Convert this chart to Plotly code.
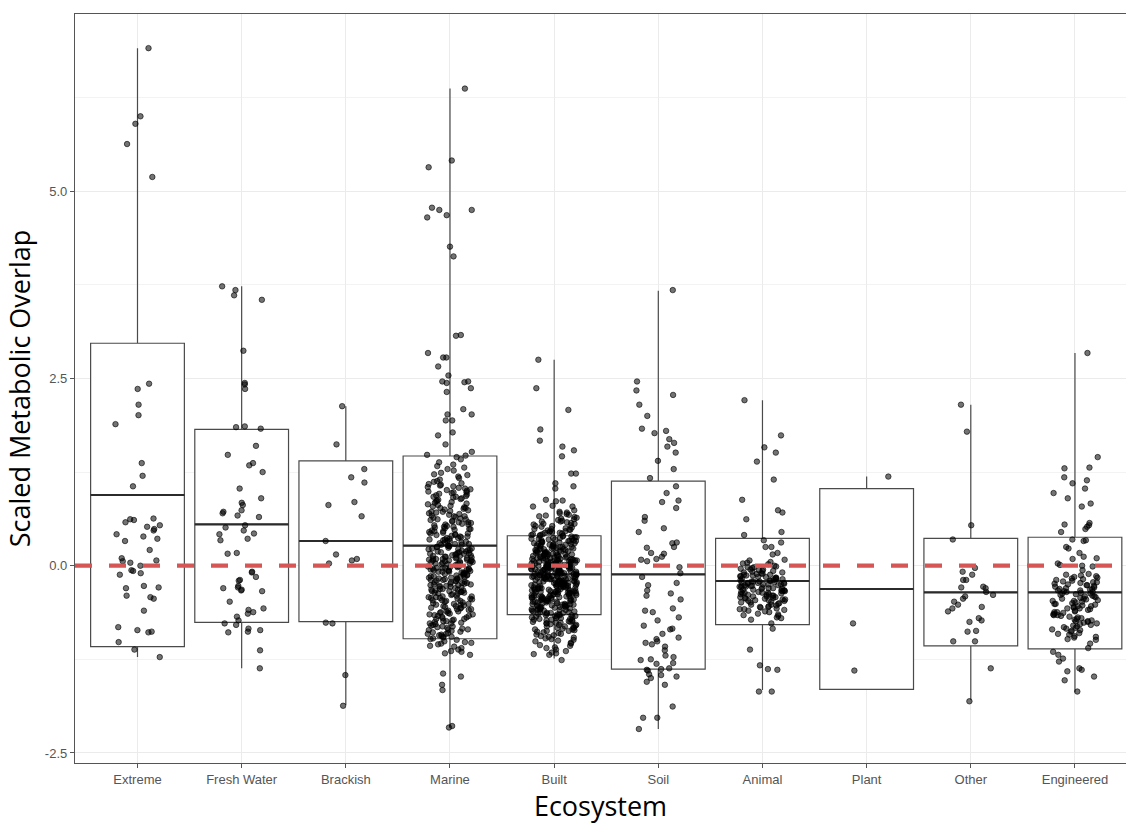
import math
import plotly.graph_objects as go

# ---------------- data ----------------
categories = ["Extreme", "Fresh Water", "Brackish", "Marine", "Built",
              "Soil", "Animal", "Plant", "Other", "Engineered"]

# box statistics
box_q1 = [-1.08, -0.756, -0.747, -0.975, -0.654, -1.38, -0.787, -1.65, -1.07, -1.11]
box_median = [0.944, 0.553, 0.33, 0.267, -0.115, -0.115, -0.204, -0.311, -0.355, -0.355]
box_q3 = [2.97, 1.82, 1.40, 1.465, 0.40, 1.13, 0.366, 1.03, 0.366, 0.38]
box_low = [-1.22, -1.37, -1.86, -2.16, -1.24, -2.18, -1.66, -1.65, -1.79, -1.69]
box_high = [6.91, 3.73, 2.13, 6.37, 2.75, 3.67, 2.21, 1.19, 2.15, 2.84]

# individual samples (read / estimated from the picture)
extreme = [6.91, 6.00, 5.90, 5.63, 5.19, 2.43, 2.36, 2.15, 2.01, 1.89, 1.37, 1.20, 1.06,
           0.63, 0.62, 0.61, 0.58, 0.54, 0.52, 0.49, 0.47, 0.42, 0.39, 0.36, 0.33, 0.21,
           0.10, 0.07, 0.06, 0.04, 0.00, -0.06, -0.07, -0.10, -0.12, -0.27, -0.29, -0.30,
           -0.40, -0.42, -0.44, -0.60, -0.82, -0.86, -0.88, -0.89, -1.02, -1.12, -1.22]

fresh_water = [3.73, 3.68, 3.61, 3.55, 2.87, 2.44, 2.42, 2.36, 1.86, 1.85, 1.83, 1.60, 1.48,
               1.37, 1.34, 1.25, 1.03, 0.90, 0.84, 0.81, 0.74, 0.72, 0.70, 0.67, 0.65, 0.54,
               0.51, 0.47, 0.43, 0.42, 0.36, 0.34, 0.17, 0.16, -0.08, -0.09, -0.15, -0.19,
               -0.20, -0.27, -0.29, -0.30, -0.32, -0.33, -0.34, -0.48, -0.57, -0.59, -0.62,
               -0.64, -0.68, -0.73, -0.77, -0.79, -0.84, -0.86, -0.88, -0.89, -1.13, -1.37]

brackish = [2.13, 1.62, 1.29, 1.18, 1.11, 0.85, 0.81, 0.66, 0.33, 0.15, 0.09, 0.07, 0.03,
            -0.76, -0.77, -1.46, -1.87]

marine = [6.37, 5.41, 5.32, 4.78, 4.75, 4.75, 4.68, 4.65, 4.26, 4.13, 3.08, 3.07, 2.84, 2.78,
          2.78, 2.66, 2.54, 2.46, 2.46, 2.45, 2.44, 2.37, 2.32, 2.09, 2.02, 2.02, 1.94, 1.94,
          1.78, 1.74, 1.62, 1.52,
          1.48, 1.47, 1.45, 1.42, 1.38, 1.35, 1.33, 1.31, 1.29, 1.27, 1.24, 1.22, 1.21,
          1.19, 1.17, 1.15, 1.13, 1.12, 1.10, 1.09, 1.08, 1.07, 1.06, 1.05, 1.04, 1.03, 1.02,
          1.01, 1.00, 0.99, 0.98, 0.98, 0.97, 0.96, 0.95, 0.94, 0.93, 0.92, 0.92, 0.91, 0.90,
          0.89, 0.88, 0.87, 0.86, 0.85, 0.84, 0.83, 0.82, 0.81, 0.80,
          0.79, 0.78, 0.77, 0.77, 0.76, 0.75, 0.74, 0.73, 0.72, 0.72, 0.71, 0.70,
          0.69, 0.68, 0.67, 0.66, 0.66, 0.65, 0.64, 0.63, 0.62, 0.62, 0.61, 0.60,
          0.59, 0.58, 0.58, 0.57, 0.56, 0.55, 0.55, 0.54, 0.53, 0.52, 0.52, 0.51, 0.50,
          0.49, 0.49, 0.48, 0.47, 0.46, 0.46, 0.45, 0.44, 0.43, 0.43, 0.42, 0.41, 0.41, 0.40,
          0.39, 0.39, 0.38, 0.37, 0.37, 0.36, 0.35, 0.35, 0.34, 0.33, 0.33, 0.32, 0.31, 0.31, 0.30,
          0.29, 0.29, 0.28, 0.28, 0.27, 0.26, 0.26, 0.25, 0.25, 0.24, 0.23, 0.23, 0.22, 0.22,
          0.21, 0.21, 0.20,
          0.19, 0.19, 0.18, 0.18, 0.17, 0.17, 0.16, 0.16, 0.15, 0.15, 0.14, 0.14, 0.13, 0.13,
          0.12, 0.12, 0.11, 0.11, 0.10, 0.10,
          0.09, 0.09, 0.09, 0.08, 0.08, 0.07, 0.07, 0.07, 0.06, 0.06, 0.05, 0.05, 0.05, 0.04,
          0.04, 0.03, 0.03, 0.03, 0.02, 0.02, 0.01, 0.00,
          -0.01, -0.01, -0.02, -0.02, -0.03, -0.03, -0.03, -0.04, -0.04, -0.05, -0.05, -0.05,
          -0.06, -0.06, -0.07, -0.07, -0.08, -0.08, -0.08, -0.09, -0.09, -0.10,
          -0.11, -0.11, -0.12, -0.12, -0.13, -0.13, -0.14, -0.14, -0.15, -0.15, -0.16, -0.16,
          -0.17, -0.17, -0.18, -0.18, -0.19, -0.19, -0.20, -0.20,
          -0.21, -0.21, -0.22, -0.22, -0.23, -0.23, -0.24, -0.24, -0.25, -0.25, -0.26, -0.26,
          -0.27, -0.27, -0.28, -0.28, -0.29, -0.30,
          -0.31, -0.31, -0.32, -0.32, -0.33, -0.33, -0.34, -0.34, -0.35, -0.35, -0.36, -0.36,
          -0.37, -0.37, -0.38, -0.39, -0.40,
          -0.41, -0.41, -0.42, -0.42, -0.43, -0.43, -0.44, -0.44, -0.45, -0.46, -0.46, -0.47,
          -0.47, -0.48, -0.49, -0.50,
          -0.51, -0.51, -0.52, -0.52, -0.53, -0.54, -0.54, -0.55, -0.56, -0.56, -0.57, -0.58,
          -0.58, -0.59, -0.60,
          -0.61, -0.61, -0.62, -0.63, -0.63, -0.64, -0.65, -0.65, -0.66, -0.67, -0.67, -0.68,
          -0.69, -0.70,
          -0.71, -0.71, -0.72, -0.73, -0.74, -0.74, -0.75, -0.76, -0.77, -0.77, -0.78, -0.79, -0.80,
          -0.81, -0.81, -0.82, -0.83, -0.84, -0.85, -0.85, -0.86, -0.87, -0.88, -0.89, -0.90,
          -0.91, -0.91, -0.92, -0.93, -0.94, -0.95, -0.95, -0.96, -0.97, -0.98, -0.99,
          -1.01, -1.02, -1.03, -1.04, -1.05, -1.07, -1.08, -1.10,
          -1.12, -1.14, -1.15, -1.17, -1.19,
          -1.44, -1.48, -1.59, -1.66, -2.14, -2.16]

built = [2.75, 2.37, 2.08, 1.82, 1.67, 1.59, 1.54, 1.46, 1.23, 1.23, 1.10, 1.06, 1.03, 0.88,
         0.87, 0.86, 0.80, 0.79, 0.79, 0.74, 0.72, 0.71,
         0.70, 0.69, 0.68, 0.67, 0.66, 0.65, 0.64, 0.63, 0.62, 0.61,
         0.60, 0.59, 0.59, 0.58, 0.57, 0.56, 0.56, 0.55, 0.54, 0.53, 0.53, 0.52, 0.51, 0.50,
         0.49, 0.49, 0.48, 0.48, 0.47, 0.46, 0.46, 0.45, 0.45, 0.44, 0.44, 0.43, 0.42, 0.42,
         0.41, 0.41, 0.40, 0.40,
         0.39, 0.39, 0.38, 0.38, 0.37, 0.37, 0.36, 0.36, 0.36, 0.35, 0.35, 0.34, 0.34, 0.33,
         0.33, 0.33, 0.32, 0.32, 0.31, 0.31, 0.30, 0.30,
         0.29, 0.29, 0.29, 0.28, 0.28, 0.28, 0.27, 0.27, 0.26, 0.26, 0.26, 0.25, 0.25, 0.25,
         0.24, 0.24, 0.23, 0.23, 0.23, 0.22, 0.22, 0.22, 0.21, 0.21, 0.20, 0.20,
         0.19, 0.19, 0.19, 0.18, 0.18, 0.18, 0.17, 0.17, 0.17, 0.16, 0.16, 0.16, 0.15, 0.15,
         0.15, 0.14, 0.14, 0.14, 0.13, 0.13, 0.13, 0.12, 0.12, 0.12, 0.11, 0.11, 0.11, 0.10,
         0.10, 0.10,
         0.09, 0.09, 0.09, 0.09, 0.08, 0.08, 0.08, 0.07, 0.07, 0.07, 0.07, 0.06, 0.06, 0.06,
         0.05, 0.05, 0.05, 0.05, 0.04, 0.04, 0.04, 0.03, 0.03, 0.03, 0.03, 0.02, 0.02, 0.02,
         0.01, 0.01, 0.01, 0.00, 0.00, 0.00,
         -0.01, -0.01, -0.01, -0.01, -0.02, -0.02, -0.02, -0.02, -0.03, -0.03, -0.03, -0.04,
         -0.04, -0.04, -0.04, -0.05, -0.05, -0.05, -0.05, -0.06, -0.06, -0.06, -0.06, -0.07,
         -0.07, -0.07, -0.08, -0.08, -0.08, -0.08, -0.09, -0.09, -0.09, -0.10, -0.10, -0.10,
         -0.11, -0.11, -0.11, -0.11, -0.12, -0.12, -0.12, -0.12, -0.13, -0.13, -0.13, -0.14,
         -0.14, -0.14, -0.14, -0.15, -0.15, -0.15, -0.15, -0.16, -0.16, -0.16, -0.16, -0.17,
         -0.17, -0.17, -0.18, -0.18, -0.18, -0.18, -0.19, -0.19, -0.19, -0.20, -0.20, -0.20,
         -0.21, -0.21, -0.21, -0.21, -0.22, -0.22, -0.22, -0.23, -0.23, -0.23, -0.23, -0.24,
         -0.24, -0.24, -0.25, -0.25, -0.25, -0.25, -0.26, -0.26, -0.26, -0.27, -0.27, -0.27,
         -0.27, -0.28, -0.28, -0.28, -0.29, -0.29, -0.29, -0.30, -0.30, -0.30,
         -0.31, -0.31, -0.31, -0.32, -0.32, -0.32, -0.33, -0.33, -0.33, -0.34, -0.34, -0.34,
         -0.35, -0.35, -0.35, -0.35, -0.36, -0.36, -0.36, -0.37, -0.37, -0.37, -0.38, -0.38,
         -0.38, -0.39, -0.39, -0.39, -0.40, -0.40, -0.40, -0.40,
         -0.41, -0.41, -0.41, -0.42, -0.42, -0.42, -0.43, -0.43, -0.43, -0.44, -0.44, -0.44,
         -0.45, -0.45, -0.45, -0.46, -0.46, -0.46, -0.47, -0.47, -0.47, -0.48, -0.48, -0.48,
         -0.49, -0.49, -0.50, -0.50,
         -0.51, -0.51, -0.51, -0.52, -0.52, -0.52, -0.53, -0.53, -0.53, -0.54, -0.54, -0.55,
         -0.55, -0.55, -0.56, -0.56, -0.57, -0.57, -0.57, -0.58, -0.58, -0.59, -0.59, -0.59,
         -0.60, -0.60,
         -0.61, -0.61, -0.62, -0.62, -0.63, -0.63, -0.63, -0.64, -0.64, -0.65, -0.65, -0.66,
         -0.66, -0.66, -0.67, -0.67, -0.68, -0.68, -0.69, -0.69, -0.70, -0.70,
         -0.71, -0.71, -0.72, -0.72, -0.73, -0.73, -0.74, -0.74, -0.75, -0.75, -0.76, -0.76,
         -0.77, -0.77, -0.78, -0.79, -0.79, -0.80,
         -0.81, -0.81, -0.82, -0.83, -0.83, -0.84, -0.85, -0.85, -0.86, -0.87, -0.87, -0.88,
         -0.89, -0.90,
         -0.91, -0.92, -0.93, -0.94, -0.95, -0.96, -0.97, -0.98, -0.99, -1.00,
         -1.01, -1.03, -1.04, -1.06, -1.07, -1.09, -1.10,
         -1.12, -1.14, -1.16, -1.19, -1.17, -1.18, -1.26]

soil = [3.68, 2.46, 2.34, 2.28, 2.15, 2.00, 1.83, 1.80, 1.77, 1.69, 1.64, 1.59, 1.51, 1.40,
        1.29, 1.17, 1.06, 0.97, 0.87, 0.85, 0.77, 0.65, 0.60, 0.50, 0.45, 0.31, 0.30, 0.25,
        0.24, 0.17, 0.16, 0.12, 0.09, 0.08, 0.06, -0.02, -0.10, -0.15, -0.23, -0.26, -0.33,
        -0.37, -0.40, -0.45, -0.57, -0.60, -0.62, -0.69, -0.73, -0.80, -0.84, -0.85, -0.91,
        -0.96, -0.98, -1.01, -1.03, -1.05, -1.08, -1.13, -1.20, -1.22, -1.25, -1.26, -1.30,
        -1.31, -1.37, -1.38, -1.39, -1.40, -1.45, -1.46, -1.48, -1.50, -1.55, -1.59, -1.88,
        -2.03, -2.03, -2.18]

animal = [2.21, 1.74, 1.58, 1.51, 1.39, 1.15, 0.88, 0.74, 0.71, 0.62, 0.45, 0.41, 0.34, 0.31,
          0.25, 0.25, 0.17, 0.15, 0.08,
          0.07, 0.05, 0.04, 0.03, 0.02, 0.00,
          -0.01, -0.02, -0.02, -0.03, -0.04, -0.05, -0.05, -0.06, -0.07, -0.07, -0.08, -0.09,
          -0.09, -0.10,
          -0.11, -0.11, -0.12, -0.12, -0.13, -0.13, -0.14, -0.14, -0.15, -0.15, -0.16, -0.16,
          -0.17, -0.17, -0.18, -0.18, -0.19, -0.19, -0.20, -0.20,
          -0.21, -0.21, -0.21, -0.22, -0.22, -0.23, -0.23, -0.23, -0.24, -0.24, -0.25, -0.25,
          -0.25, -0.26, -0.26, -0.27, -0.27, -0.27, -0.28, -0.28, -0.29, -0.29, -0.30, -0.30,
          -0.31, -0.31, -0.32, -0.32, -0.33, -0.33, -0.33, -0.34, -0.34, -0.35, -0.35, -0.36,
          -0.36, -0.36, -0.37, -0.37, -0.38, -0.38, -0.39, -0.39, -0.40, -0.40,
          -0.41, -0.41, -0.42, -0.42, -0.43, -0.43, -0.44, -0.44, -0.45, -0.45, -0.46, -0.46,
          -0.47, -0.47, -0.48, -0.49, -0.49, -0.50,
          -0.51, -0.52, -0.52, -0.53, -0.54, -0.55, -0.55, -0.56, -0.57, -0.58, -0.58, -0.59, -0.60,
          -0.61, -0.62, -0.64, -0.65, -0.66, -0.67, -0.69, -0.70,
          -0.72, -0.77, -0.84, -1.12, -1.33, -1.38, -1.39, -1.68, -1.68]

plant = [1.19, -0.77, -1.40]

other = [2.15, 1.79, 0.54, 0.35, -0.03, -0.08, -0.12, -0.19, -0.19, -0.28, -0.29, -0.30,
         -0.35, -0.39, -0.41, -0.44, -0.48, -0.52, -0.55, -0.57, -0.61, -0.70, -0.73, -0.75,
         -0.87, -0.88, -1.01, -1.01, -1.37, -1.81]

engineered = [2.84, 1.45, 1.31, 1.30, 1.18, 1.14, 1.10, 1.03, 0.97, 0.90, 0.83, 0.79, 0.57,
              0.55, 0.54, 0.52, 0.49, 0.45, 0.35, 0.34, 0.33, 0.25, 0.23, 0.17, 0.12, 0.10,
              0.09, 0.03, 0.01, 0.00, -0.01, -0.06,
              -0.11, -0.12, -0.13, -0.14, -0.15, -0.16, -0.17, -0.18, -0.19, -0.20,
              -0.21, -0.22, -0.22, -0.23, -0.24, -0.25, -0.26, -0.26, -0.27, -0.28, -0.29, -0.30,
              -0.31, -0.31, -0.32, -0.33, -0.33, -0.34, -0.35, -0.35, -0.36, -0.37, -0.37, -0.38,
              -0.39, -0.40,
              -0.41, -0.41, -0.42, -0.43, -0.44, -0.44, -0.45, -0.46, -0.47, -0.47, -0.48, -0.49,
              -0.50,
              -0.51, -0.51, -0.52, -0.53, -0.54, -0.54, -0.55, -0.56, -0.57, -0.57, -0.58, -0.59,
              -0.60,
              -0.61, -0.62, -0.62, -0.63, -0.64, -0.65, -0.66, -0.66, -0.67, -0.68, -0.69, -0.70,
              -0.71, -0.72, -0.73, -0.74, -0.74, -0.75, -0.76, -0.77, -0.78, -0.79, -0.80,
              -0.81, -0.82, -0.83, -0.84, -0.85, -0.86, -0.87, -0.88, -0.90,
              -0.91, -0.92, -0.94, -0.95, -0.96, -0.98, -0.99,
              -1.04, -1.10, -1.15, -1.19, -1.24, -1.28, -1.37, -1.39, -1.41, -1.48, -1.53, -1.68]

samples = [extreme, fresh_water, brackish, marine, built, soil, animal, plant, other, engineered]

y_tick_vals = [-2.5, 0.0, 2.5, 5.0]
y_tick_text = ["-2.5", "0.0", "2.5", "5.0"]

# ---------------- figure ----------------
positions = list(range(len(categories)))
BOX_W = 0.9
JIT_W = 0.22


def jitter(i, k):
    v = math.sin((i + 1) * 12.9898 + (k + 1) * 78.233) * 43758.5453
    return (v - math.floor(v) - 0.5) * 2 * JIT_W


fig = go.Figure()

fig.add_trace(go.Box(
    x=positions, q1=box_q1, median=box_median, q3=box_q3,
    lowerfence=box_low, upperfence=box_high,
    width=BOX_W, whiskerwidth=0, boxpoints=False,
    fillcolor="white", line=dict(color="#4a4a4a", width=1.2),
    hoverinfo="skip", showlegend=False,
))

# thicker median lines (ggplot style)
mx, my = [], []
for p, m in zip(positions, box_median):
    mx += [p - BOX_W / 2, p + BOX_W / 2, None]
    my += [m, m, None]
fig.add_trace(go.Scatter(x=mx, y=my, mode="lines",
                         line=dict(color="#2b2b2b", width=2.2),
                         hoverinfo="skip", showlegend=False))

px, py = [], []
for k, vals in enumerate(samples):
    for i, v in enumerate(vals):
        px.append(positions[k] + jitter(i, k))
        py.append(v)
fig.add_trace(go.Scatter(
    x=px, y=py, mode="markers",
    marker=dict(size=5.5, color="rgba(0,0,0,0.55)",
                line=dict(color="rgba(0,0,0,0.6)", width=1)),
    showlegend=False,
))

fig.add_shape(type="line", xref="paper", x0=0, x1=1, yref="y", y0=0, y1=0,
              line=dict(color="#d65656", width=4.3, dash="17px,17px"), layer="above")

fig.update_layout(
    width=1126, height=828,
    margin=dict(l=75, r=0, t=14, b=65),
    plot_bgcolor="white", paper_bgcolor="white",
    showlegend=False,
    xaxis=dict(
        range=[-0.6, 9.49], tickvals=positions, ticktext=categories,
        showgrid=True, gridcolor="#ebebeb", gridwidth=1, zeroline=False,
        showline=True, mirror=True, linecolor="#555555", linewidth=1.3,
        ticks="outside", ticklen=4, tickcolor="#555555",
        tickfont=dict(family="Liberation Sans, Arial", size=13, color="#555555"),
        title=dict(text="Ecosystem", standoff=10,
                   font=dict(family="Open Sans", size=27, color="black")),
    ),
    yaxis=dict(
        range=[-2.634, 7.366], tickvals=y_tick_vals, ticktext=y_tick_text,
        showgrid=True, gridcolor="#ebebeb", gridwidth=1, zeroline=False,
        minor=dict(tickvals=[-1.25, 1.25, 3.75, 6.25], showgrid=True,
                   gridcolor="#f3f3f3", gridwidth=0.8, ticks=""),
        showline=True, mirror=False, linecolor="#555555", linewidth=1.3,
        ticks="outside", ticklen=4, tickcolor="#555555",
        tickfont=dict(family="Liberation Sans, Arial", size=13, color="#555555"),
        title=dict(text="Scaled Metabolic Overlap", standoff=6,
                   font=dict(family="Open Sans", size=27, color="black")),
    ),
)

fig.write_html("out.html",
               config={"displayModeBar": False},
               post_script="document.body.style.margin='0px';"
                           "document.body.style.overflow='hidden';")
